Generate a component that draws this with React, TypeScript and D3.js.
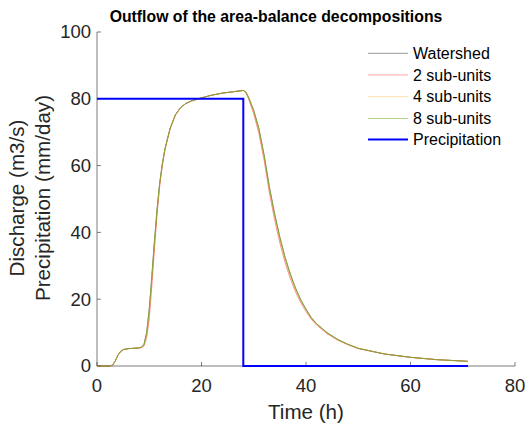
import React from "react";
import * as d3 from "d3";

const title = "Outflow of the area-balance decompositions";
const xLabel = "Time (h)";
const yLabelLines = ["Discharge (m3/s)", "Precipitation (mm/day)"];
const xTicks = [0, 20, 40, 60, 80];
const yTicks = [0, 20, 40, 60, 80, 100];

const times = [0, 2.5, 3, 3.5, 4, 4.5, 5, 6, 7, 8, 8.5, 9, 9.5, 10, 10.5, 11, 11.5, 12, 12.5, 13, 14, 15, 16, 17, 18, 19, 20, 22, 24, 26, 27, 28, 28.5, 29, 29.5, 30, 31, 32, 33, 34, 35, 36, 37, 38, 39, 40, 41, 42, 44, 46, 48, 50, 55, 60, 65, 71];

const watershed = [0, 0, 0.3, 1.5, 3.2, 4.3, 4.9, 5.2, 5.3, 5.4, 5.6, 6.5, 10, 17, 27, 37.5, 47, 54.8, 60.5, 65, 71.2, 75.2, 77.4, 78.6, 79.3, 79.8, 80.3, 81.1, 81.7, 82.1, 82.3, 82.5, 82, 80.5, 78.5, 76.5, 71, 63, 53.5, 45.5, 38.5, 32.5, 27.5, 23.3, 19.8, 17, 14.5, 12.7, 10, 8, 6.5, 5.3, 3.6, 2.6, 1.9, 1.4];
const sub2 = [0, 0, 0.3, 1.5, 3.2, 4.3, 4.9, 5.2, 5.3, 5.4, 5.5, 6.0, 8.5, 14, 24, 35, 45.5, 53.8, 60, 64.7, 71, 75.1, 77.3, 78.6, 79.3, 79.8, 80.3, 81.1, 81.7, 82.1, 82.3, 82.5, 81.8, 80, 77.8, 75.5, 69.5, 61.5, 51.8, 43.8, 36.8, 31, 26.2, 22.2, 19, 16.3, 14, 12.3, 9.7, 7.8, 6.4, 5.2, 3.6, 2.6, 1.9, 1.4];
const sub4 = [0, 0, 0.3, 1.5, 3.2, 4.3, 4.9, 5.2, 5.3, 5.4, 5.6, 6.3, 9.3, 16, 26, 36.5, 46.3, 54.4, 60.3, 64.9, 71.1, 75.2, 77.4, 78.6, 79.3, 79.8, 80.3, 81.1, 81.7, 82.1, 82.3, 82.5, 81.9, 80.3, 78.2, 76, 70.3, 62.3, 52.7, 44.7, 37.7, 31.8, 26.9, 22.8, 19.4, 16.7, 14.3, 12.5, 9.9, 7.9, 6.5, 5.3, 3.6, 2.6, 1.9, 1.4];
const sub8 = [0, 0, 0.3, 1.5, 3.2, 4.3, 4.9, 5.2, 5.3, 5.4, 5.6, 6.5, 10, 17, 27, 37.5, 47, 54.8, 60.5, 65, 71.2, 75.2, 77.4, 78.6, 79.3, 79.8, 80.3, 81.1, 81.7, 82.1, 82.3, 82.5, 82, 80.5, 78.5, 76.5, 71, 63, 53.5, 45.5, 38.5, 32.5, 27.5, 23.3, 19.8, 17, 14.5, 12.7, 10, 8, 6.5, 5.3, 3.6, 2.6, 1.9, 1.4];

const precipTimes = [0, 28, 28, 71];
const precipValues = [80, 80, 0, 0];

const seriesNames = ["Watershed", "2 sub-units", "4 sub-units", "8 sub-units", "Precipitation"];

const FONT = "'Liberation Sans', Arial, Helvetica, sans-serif";

export default function App() {
  const W = 528, H = 428;
  const x = d3.scaleLinear().domain([0, 80]).range([97, 515]);
  const y = d3.scaleLinear().domain([0, 100]).range([366, 32]);
  const line = d3.line<[number, number]>().x(d => x(d[0])).y(d => y(d[1]));

  const flows = [
    { name: seriesNames[0], vals: watershed, color: "#000000", op: 0.5, w: 1 },
    { name: seriesNames[1], vals: sub2, color: "#FF0000", op: 0.45, w: 1 },
    { name: seriesNames[2], vals: sub4, color: "#EDB120", op: 0.5, w: 1 },
    { name: seriesNames[3], vals: sub8, color: "#77AC30", op: 0.7, w: 1 },
  ];
  const precipPts: [number, number][] = precipTimes.map((t, i) => [t, precipValues[i]]);

  const legendX1 = 368, legendX2 = 408, legendTextX = 413;
  const legendY = [53.3, 74.9, 96.7, 118.5, 139.5];
  const legendItems = [
    ...flows.map(f => ({ name: f.name, color: f.color, op: f.op * 0.8, w: f.w })),
    { name: seriesNames[4], color: "#0000FF", op: 1, w: 2 },
  ];

  const axisColor = "#262626";

  return (
    <svg width={W} height={H} style={{ position: "absolute", left: 0, top: 0, background: "#fff" }} fontFamily={FONT}>
      <rect x={0} y={0} width={W} height={H} fill="#fff" />
      <line x1={x(0)} x2={x(80)} y1={y(0)} y2={y(0)} stroke={axisColor} strokeWidth={0.6} />
      <line x1={x(0)} x2={x(0)} y1={y(0)} y2={y(100)} stroke={axisColor} strokeWidth={0.6} />
      {xTicks.map(t => (
        <g key={"xt" + t}>
          <line x1={x(t)} x2={x(t)} y1={y(0)} y2={y(0) - 4} stroke={axisColor} strokeWidth={0.6} />
          <text x={x(t)} y={391.5} textAnchor="middle" fontSize={18.5} fill={axisColor}>{t}</text>
        </g>
      ))}
      {yTicks.map(t => (
        <g key={"yt" + t}>
          <line x1={x(0)} x2={x(0) + 4} y1={y(t)} y2={y(t)} stroke={axisColor} strokeWidth={0.6} />
          <text x={91} y={y(t)} dy="0.35em" textAnchor="end" fontSize={18.5} fill={axisColor}>{t}</text>
        </g>
      ))}
      {flows.map(f => (
        <path key={f.name} d={line(times.map((t, i) => [t, f.vals[i]]) as [number, number][]) || ""} fill="none" stroke={f.color} strokeOpacity={f.op} strokeWidth={f.w} />
      ))}
      <path d={line(precipPts) || ""} fill="none" stroke="#0000FF" strokeWidth={2} />
      <text x={276} y={22} textAnchor="middle" fontSize={15.8} fontWeight="bold" fill="#000">{title}</text>
      <text x={306} y={419} textAnchor="middle" fontSize={20.6} fill={axisColor}>{xLabel}</text>
      <g transform={`translate(0, 198)`}>
        <text transform="translate(24,0) rotate(-90)" textAnchor="middle" fontSize={20.6} fill={axisColor}>{yLabelLines[0]}</text>
        <text transform="translate(49.5,0) rotate(-90)" textAnchor="middle" fontSize={20.6} fill={axisColor}>{yLabelLines[1]}</text>
      </g>
      {legendItems.map((it, i) => (
        <g key={"lg" + i}>
          <line x1={legendX1} x2={legendX2} y1={legendY[i]} y2={legendY[i]} stroke={it.color} strokeOpacity={it.op} strokeWidth={it.w} />
          <text x={legendTextX} y={legendY[i]} dy="0.35em" fontSize={16} fill="#000">{it.name}</text>
        </g>
      ))}
    </svg>
  );
}
